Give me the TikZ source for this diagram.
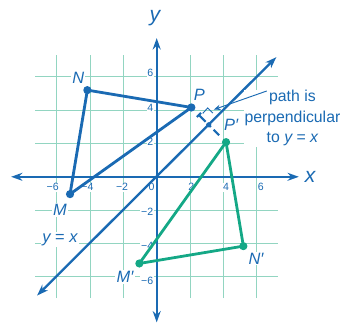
\documentclass[tikz,border=0pt]{standalone}
\usepackage{fontspec}
\setmainfont{Liberation Sans}
\usetikzlibrary{arrows.meta}
\definecolor{cblue}{HTML}{1A6AB3}
\definecolor{cgreen}{HTML}{14A886}
\definecolor{cgrid}{HTML}{92D5C1}
\tikzset{
  every picture/.style={line width=1.2pt},
  axis/.style={draw=cblue, line width=1.6pt, {Stealth[length=3.4mm,width=2.4mm]}-{Stealth[length=3.4mm,width=2.4mm]}},
  tri/.style={draw=#1, line width=2.4pt, line join=round},
  dot/.style={circle, fill=#1, inner sep=0pt, minimum size=7pt},
  lbl/.style={font=\fontsize{14}{16}\selectfont\itshape, text=cblue, fill=white, inner sep=1pt},
  axislbl/.style={font=\fontsize{18}{20}\selectfont\itshape, text=cblue, inner sep=1pt},
  ticklbl/.style={font=\fontsize{9}{10}\selectfont, text=cblue, fill=white, inner sep=0.6pt},
  note/.style={font=\fontsize{13.5}{17.5}\selectfont, text=cblue, align=center, fill=white, inner sep=0.5pt},
  perp/.style={draw=cblue, line width=1.8pt, shorten <=0.29cm, shorten >=0.29cm,
    dash pattern=on 0.27cm off 0.12cm on 0.1cm off 0.12cm on 0.27cm off 1cm, {Bar[width=5pt]}-},
}

\begin{document}
\begin{tikzpicture}[x=0.52cm, y=0.52cm]
  \useasboundingbox (-9.04,-8.38) rectangle (10.69,10.2);
  % grid
  \draw[cgrid, line width=0.8pt] (-7,-7) grid (7,7);
  % tick labels
  \foreach \v/\t in {-6/−6,-4/−4,-2/−2,2/2,4/4,6/6} {
    \node[ticklbl] (tx\v) at (\v,-0.6) {\t};
    \node[ticklbl, anchor=east] (ty\v) at (-0.12,\v) {\t};
  }
  \node[ticklbl] (t0) at (-0.3,-0.58) {0};
  % axes
  \coordinate (xl) at (-8.4,0);
  \coordinate (xr) at (8.2,0);
  \coordinate (yb) at (0,-8.4);
  \coordinate (yt) at (0,8.0);
  \draw[axis] (xl) -- (xr);
  \draw[axis] (yb) -- (yt);
  \node[axislbl] (xlab) at (8.85,0) {x};
  \node[axislbl] (ylab) at (-0.1,9.15) {y};
  % line y = x
  \coordinate (d1) at (-6.9,-6.85);
  \coordinate (d2) at (6.9,6.9);
  \draw[axis, line width=2pt] (d1) -- (d2);
  \node[lbl, font=\fontsize{14}{16}\selectfont] (dlab) at (-5.58,-3.61) {{\itshape y} = {\itshape x}};
  % points
  \coordinate (M) at (-5,-1);
  \coordinate (N) at (-4,5);
  \coordinate (P) at (2,4);
  \coordinate (M') at (-1,-5);
  \coordinate (N') at (5,-4);
  \coordinate (P') at (4,2);
  \coordinate (Q) at (3,3);
  % perpendicular path
  \draw[perp] (P) -- (P');
  \fill[cblue] (Q) circle (2.2pt);
  \coordinate (ra1) at (2.66,3.66);
  \coordinate (ra2) at (2.94,3.97);
  \coordinate (ra3) at (3.24,3.68);
  \draw[cblue, line width=0.8pt] (ra1) -- (ra2) -- (ra3);
  % triangles
  \draw[tri=cblue] (M) -- (N) -- (P) -- cycle;
  \draw[tri=cgreen] (M') -- (N') -- (P') -- cycle;
  \foreach \p in {M,N,P} \node[dot=cblue] at (\p) {};
  \foreach \p in {M',N',P'} \node[dot=cgreen] at (\p) {};
  \node[lbl] (lM) at (-5.58,-1.92) {M};
  \node[lbl] (lN) at (-4.52,5.68) {N};
  \node[lbl, fill=none] (lP) at (2.46,4.71) {P};
  \node[lbl] (lM') at (-1.83,-5.77) {M′};
  \node[lbl] (lN') at (5.73,-4.71) {N′};
  \node[lbl, fill=none] (lP') at (4.3,2.98) {P′};
  % note
  \node[note] (note) at (7.83,3.38) {path is\\perpendicular\\to {\itshape y} = {\itshape x}};
  \coordinate (nstart) at (6.35,4.95);
  \coordinate (ntip) at (3.3,3.88);
  \draw[cblue, line width=0.8pt, -{Stealth[length=2mm,width=1.6mm]}] (nstart) -- (ntip);
\end{tikzpicture}
\end{document}
